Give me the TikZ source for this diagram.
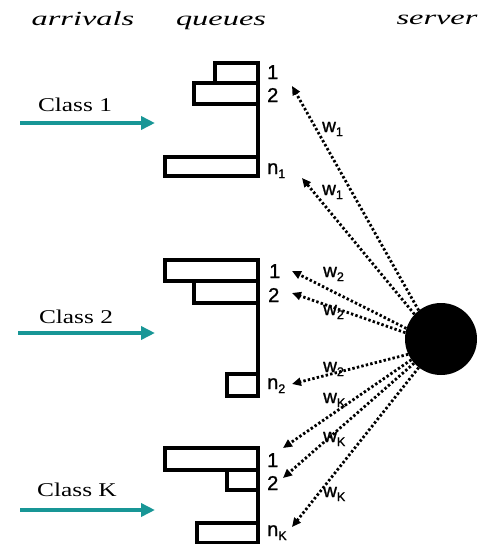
\documentclass[tikz,border=0pt]{standalone}
\usepackage{fontspec}
\usepackage{graphicx}
\setmainfont{Liberation Serif}
\newfontfamily\lsans[FakeBold=1.2]{Liberation Sans}
\usetikzlibrary{arrows.meta}
\definecolor{teal1}{RGB}{24,150,150}
\newcommand\qsub[1]{\raisebox{-4pt}{\fontsize{12.5}{13}\selectfont #1}}
\begin{document}
\begin{tikzpicture}[x=1pt,y=-1pt,
 qbox/.style={line width=3.2pt},
 hdr/.style={font=\fontsize{20}{22}\selectfont\itshape, inner sep=0pt, anchor=base},
 cls/.style={font=\fontsize{19.5}{22}\selectfont, inner sep=0pt},
 qlab/.style={font=\lsans\fontsize{20}{22}\selectfont, inner sep=0pt, anchor=base west},
 wlab/.style={font=\lsans\fontsize{19}{20}\selectfont, inner sep=0pt, anchor=base west},
 inflow/.style={draw=teal1, line width=4pt, -{Triangle[length=14pt,width=13pt,fill=teal1]}},
 svc/.style={line width=2.8pt, dash pattern=on 2.4pt off 2.2pt, -{Triangle[length=9pt,width=8pt]}},
]
\useasboundingbox (0,0) rectangle (492,544);

% headers
\node[hdr] (harr) at (83,25) {\scalebox{1.62}[1]{arrivals}};
\node[hdr] (hque) at (221,25) {\scalebox{1.62}[1]{queues}};
\node[hdr] (hsrv) at (437,24) {\scalebox{1.62}[1]{server}};

% classes
\node[cls] (c1) at (75,105) {\scalebox{1.3}[1]{Class 1}};
\node[cls] (c2) at (76,317) {\scalebox{1.3}[1]{Class 2}};
\node[cls] (cK) at (77,490) {\scalebox{1.3}[1]{Class K}};
\coordinate (c1s) at (20,123); \coordinate (c1e) at (155,123);
\coordinate (c2s) at (18,333); \coordinate (c2e) at (155,333);
\coordinate (cKs) at (20,510); \coordinate (cKe) at (155,510);
\draw[inflow] (c1s) -- (c1e);
\draw[inflow] (c2s) -- (c2e);
\draw[inflow] (cKs) -- (cKe);

% queue 1
\draw[qbox] (215,63) rectangle (258,83);
\draw[qbox] (194,83) rectangle (258,104);
\draw[qbox] (165,157) rectangle (258,176);
\draw[qbox] (258,104) -- (258,157);
% queue 2
\draw[qbox] (165,260) rectangle (258,281);
\draw[qbox] (194,281) rectangle (258,303);
\draw[qbox] (227,374) rectangle (258,396);
\draw[qbox] (258,303) -- (258,374);
% queue K
\draw[qbox] (165,448) rectangle (258,470);
\draw[qbox] (227,470) rectangle (258,490);
\draw[qbox] (197,523) rectangle (258,543);
\draw[qbox] (258,490) -- (258,523);

% queue labels
\node[qlab] (q11) at (267,79) {1};
\node[qlab] (q12) at (267,102) {2};
\node[qlab] (q1n) at (267,174) {n\qsub{1}};
\node[qlab] (q21) at (269,278) {1};
\node[qlab] (q22) at (268,302) {2};
\node[qlab] (q2n) at (267,389) {n\qsub{2}};
\node[qlab] (qK1) at (267,467) {1};
\node[qlab] (qK2) at (267,490) {2};
\node[qlab] (qKn) at (267,536) {n\qsub{K}};

% server
\node[circle, fill=black, minimum size=72pt, inner sep=0pt] (srv) at (441,339) {};

% arrow tips
\coordinate (t1) at (292,86);
\coordinate (t2) at (302,178);
\coordinate (t3) at (292,271);
\coordinate (t4) at (292,293);
\coordinate (t5) at (292,384);
\coordinate (t6) at (283,448);
\coordinate (t7) at (283,478);
\coordinate (t8) at (292,527);

\draw[svc] (srv.128) -- (t1);
\draw[svc] (srv.137) -- (t2);
\draw[svc] (srv.163) -- (t3);
\draw[svc] (srv.170) -- (t4);
\draw[svc] (srv.205) -- (t5);
\draw[svc] (srv.215) -- (t6);
\draw[svc] (srv.222) -- (t7);
\draw[svc] (srv.232) -- (t8);

% weights
\node[wlab] (w1a) at (322,132) {w\qsub{1}};
\node[wlab] (w1b) at (322,195) {w\qsub{1}};
\node[wlab] (w2a) at (323,277) {w\qsub{2}};
\node[wlab] (w2b) at (323,315) {w\qsub{2}};
\node[wlab] (w2c) at (323,372) {w\qsub{2}};
\node[wlab] (wKa) at (323,403) {w\qsub{K}};
\node[wlab] (wKb) at (323,442) {w\qsub{K}};
\node[wlab] (wKc) at (323,497) {w\qsub{K}};
\end{tikzpicture}
\end{document}
